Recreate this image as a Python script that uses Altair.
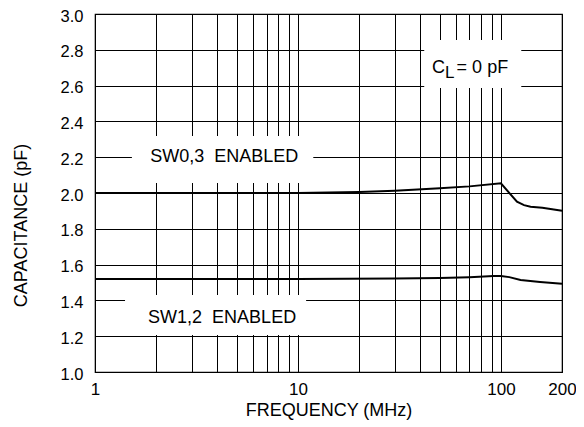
import altair as alt
import pandas as pd

# ---- data ----
freq_sw03 = [1, 10, 20, 30, 50, 70, 100, 120, 130, 140, 160, 200]
cap_sw03 = [2.0, 2.0, 2.005, 2.012, 2.026, 2.037, 2.054, 1.951, 1.932, 1.923, 1.917, 1.901]
freq_sw12 = [1, 10, 30, 50, 70, 92, 100, 110, 125, 156, 200]
cap_sw12 = [1.52, 1.52, 1.522, 1.525, 1.530, 1.536, 1.536, 1.530, 1.514, 1.503, 1.493]

x_grid = [1, 2, 3, 4, 5, 6, 7, 8, 9, 10, 20, 30, 40, 50, 60, 70, 80, 90, 100, 200]
x_labels = [1, 10, 100, 200]
y_ticks = [1.0, 1.2, 1.4, 1.6, 1.8, 2.0, 2.2, 2.4, 2.6, 2.8, 3.0]

# annotation boxes (white backgrounds behind labels)
box_x1 = [1.52, 1.406, 41.9]
box_x2 = [11.9, 10.97, 126.0]
box_y1 = [2.056, 1.207, 2.587]
box_y2 = [2.318, 1.430, 2.855]

NB = "\u00a0"
label_text = ["SW0,3" + NB + NB + "ENABLED", "SW1,2" + NB + NB + "ENABLED"]
label_x = [4.33, 4.23]
label_y = [2.2, 1.3]

cl_text = ["C", "L", "=" + NB + "0" + NB + "pF"]
cl_x = [45.7, 53.0, 60.5]
cl_y = [2.7, 2.7, 2.7]
cl_dy = [0, 5, 0]

# ---- tables ----
lines_df = pd.DataFrame(
    {"freq": freq_sw03 + freq_sw12,
     "cap": cap_sw03 + cap_sw12,
     "series": ["SW0,3"] * len(freq_sw03) + ["SW1,2"] * len(freq_sw12)}
)
boxes_df = pd.DataFrame({"x1": box_x1, "x2": box_x2, "y1": box_y1, "y2": box_y2})
labels_df = pd.DataFrame({"text": label_text, "x": label_x, "y": label_y})
cl_df = pd.DataFrame({"text": cl_text, "x": cl_x, "y": cl_y, "dy": cl_dy})

FONT = "Liberation Sans"

xscale = alt.Scale(type="log", domain=[1, 200], nice=False)
yscale = alt.Scale(domain=[1.0, 3.0], nice=False, zero=False)

xaxis = alt.Axis(
    values=x_grid,
    labelExpr="indexof([1,10,100,200], datum.value) >= 0 ? format(datum.value, 'd') : ''",
    title="FREQUENCY (MHz)",
    grid=True, ticks=False, domain=False,
    labelFontSize=17, labelFont=FONT, labelColor="black", labelPadding=9,
    labelOverlap=False, labelBound=False, labelFlush=False,
    titleFontSize=18, titleFont=FONT, titleFontWeight="normal", titleColor="black",
    titleY=38, titleBaseline="middle",
    gridColor="black", gridWidth=1, gridOpacity=1,
)
yaxis = alt.Axis(
    values=y_ticks, format=".1f",
    title="CAPACITANCE (pF)",
    grid=True, ticks=False, domain=False,
    labelFontSize=16.5, labelFont=FONT, labelColor="black", labelPadding=12,
    labelOffset=2,
    labelOverlap=False, labelBound=False, labelFlush=False,
    titleFontSize=18, titleFont=FONT, titleFontWeight="normal", titleColor="black",
    titleX=-74, titleY=211, titleBaseline="middle", titleAngle=-90,
    gridColor="black", gridWidth=1, gridOpacity=1,
)

base_lines = alt.Chart(lines_df).mark_line(color="black", strokeWidth=2).encode(
    x=alt.X("freq:Q", scale=xscale, axis=xaxis),
    y=alt.Y("cap:Q", scale=yscale, axis=yaxis),
    detail="series:N",
)

boxes = alt.Chart(boxes_df).mark_rect(color="white").encode(
    x=alt.X("x1:Q", scale=xscale, axis=xaxis), x2="x2:Q",
    y=alt.Y("y1:Q", scale=yscale, axis=yaxis), y2="y2:Q",
)

labels = alt.Chart(labels_df).mark_text(
    font=FONT, fontSize=18, color="black", align="center", baseline="middle"
).encode(
    x=alt.X("x:Q", scale=xscale, axis=xaxis),
    y=alt.Y("y:Q", scale=yscale, axis=yaxis),
    text="text:N",
)

cl_main = alt.Chart(cl_df).transform_filter("datum.dy == 0").mark_text(
    font=FONT, fontSize=18, color="black", align="left", baseline="middle"
).encode(
    x=alt.X("x:Q", scale=xscale, axis=xaxis),
    y=alt.Y("y:Q", scale=yscale, axis=yaxis),
    text="text:N",
)

cl_sub = alt.Chart(cl_df).transform_filter("datum.dy != 0").mark_text(
    font=FONT, fontSize=17, color="black", align="left", baseline="middle", dy=5
).encode(
    x=alt.X("x:Q", scale=xscale, axis=xaxis),
    y=alt.Y("y:Q", scale=yscale, axis=yaxis),
    text="text:N",
)

chart = alt.layer(base_lines, boxes, labels, cl_main, cl_sub).properties(
    width=467, height=358,
    padding={"left": 87, "top": 6, "right": 14, "bottom": 55},
    autosize="none",
).configure_view(stroke="black", strokeWidth=1.2)

chart.save("out.html", embed_options={"renderer": "svg", "actions": False})
